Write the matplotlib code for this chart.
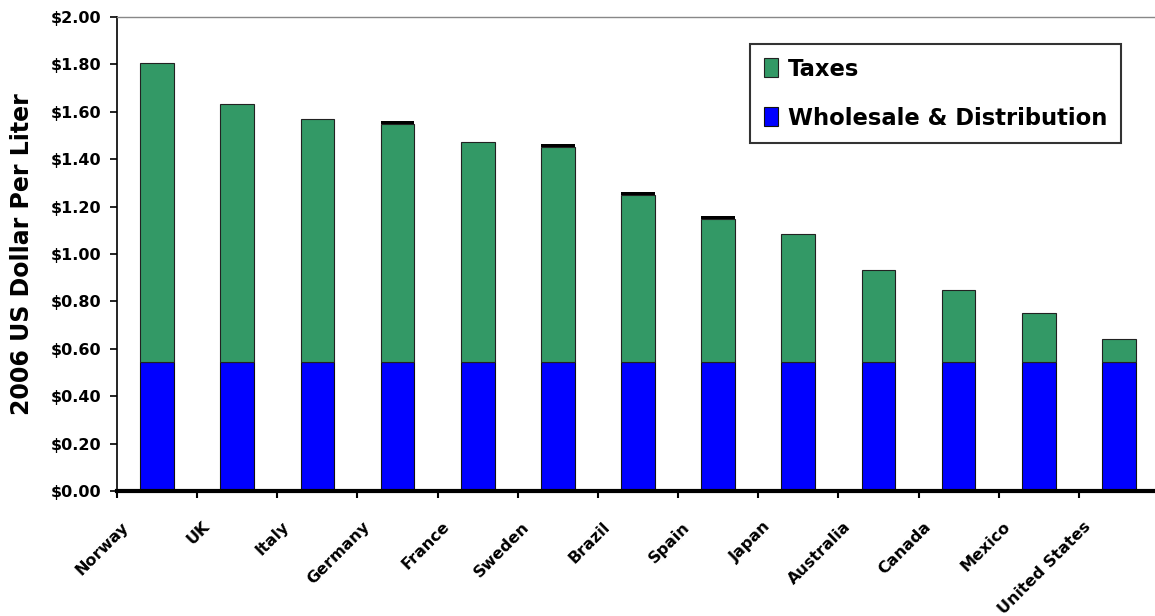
import matplotlib
matplotlib.use("Agg")
import matplotlib.pyplot as plt
import numpy as np

countries = ["Norway", "UK", "Italy", "Germany", "France", "Sweden", "Brazil",
             "Spain", "Japan", "Australia", "Canada", "Mexico", "United States"]
wholesale = [0.544] * 13
taxes = [1.262, 1.089, 1.026, 1.005, 0.929, 0.908, 0.706, 0.604, 0.540,
         0.388, 0.304, 0.207, 0.097]
top_band = [0.0, 0.0, 0.0, 0.012, 0.0, 0.012, 0.012, 0.012, 0.0,
            0.0, 0.0, 0.0, 0.0]
yticks = [0.0, 0.2, 0.4, 0.6, 0.8, 1.0, 1.2, 1.4, 1.6, 1.8, 2.0]

fig = plt.figure(figsize=(11.55, 6.16), dpi=100)
ax = fig.add_axes([117 / 1155, 125 / 616, 1042 / 1155, 474 / 616])

x = np.arange(len(countries))
w = 0.42
ax.bar(x, wholesale, width=w, color="#0000FF", edgecolor="#111111", linewidth=0.8,
       label="Wholesale & Distribution")
ax.bar(x, taxes, width=w, bottom=wholesale, color="#339966", edgecolor="#222222",
       linewidth=0.8, label="Taxes")
ax.bar(x, top_band, width=w, bottom=[a + b for a, b in zip(wholesale, taxes)],
       color="#000000", linewidth=0)

ax.set_xlim(-0.5, len(countries) - 0.5)
ax.set_ylim(0, 2.0)
ax.set_yticks(yticks)
ax.set_yticklabels([f"${v:.2f}" for v in yticks], fontsize=11.5, fontweight="bold")

# category labels sit slightly left of the bar centres, as in the original
ax.set_xticks(x - 0.38)
ax.set_xticklabels(countries, rotation=45, ha="right", va="center",
                   rotation_mode="anchor", fontsize=11.5, fontweight="bold")
ax.tick_params(axis="x", which="major", length=0, pad=24)
ax.set_xticks(np.arange(-0.5, len(countries), 1.0), minor=True)
ax.tick_params(axis="x", which="minor", length=5, width=1.5, direction="out")
ax.tick_params(axis="y", length=5, width=1.2, direction="out", pad=6)
ax.set_ylabel("2006 US Dollar Per Liter", fontsize=17, fontweight="bold", labelpad=12)

ax.spines["right"].set_visible(False)
ax.spines["top"].set_color("#888888")
ax.spines["top"].set_linewidth(1)
ax.spines["bottom"].set_linewidth(3)
ax.spines["left"].set_linewidth(1.2)

handles, labels = ax.get_legend_handles_labels()
leg = ax.legend(handles[::-1], labels[::-1], loc="upper left",
                bbox_to_anchor=((750 - 117) / 1042, (491 - 44) / 474),
                frameon=True, fancybox=False, edgecolor="black",
                handlelength=0.62, handleheight=0.9, handletextpad=0.45,
                labelspacing=1.15, borderpad=0.6, borderaxespad=0,
                prop={"size": 16.3, "weight": "semibold"})
leg.get_frame().set_linewidth(1.5)

fig.savefig("out.png", dpi=100)
